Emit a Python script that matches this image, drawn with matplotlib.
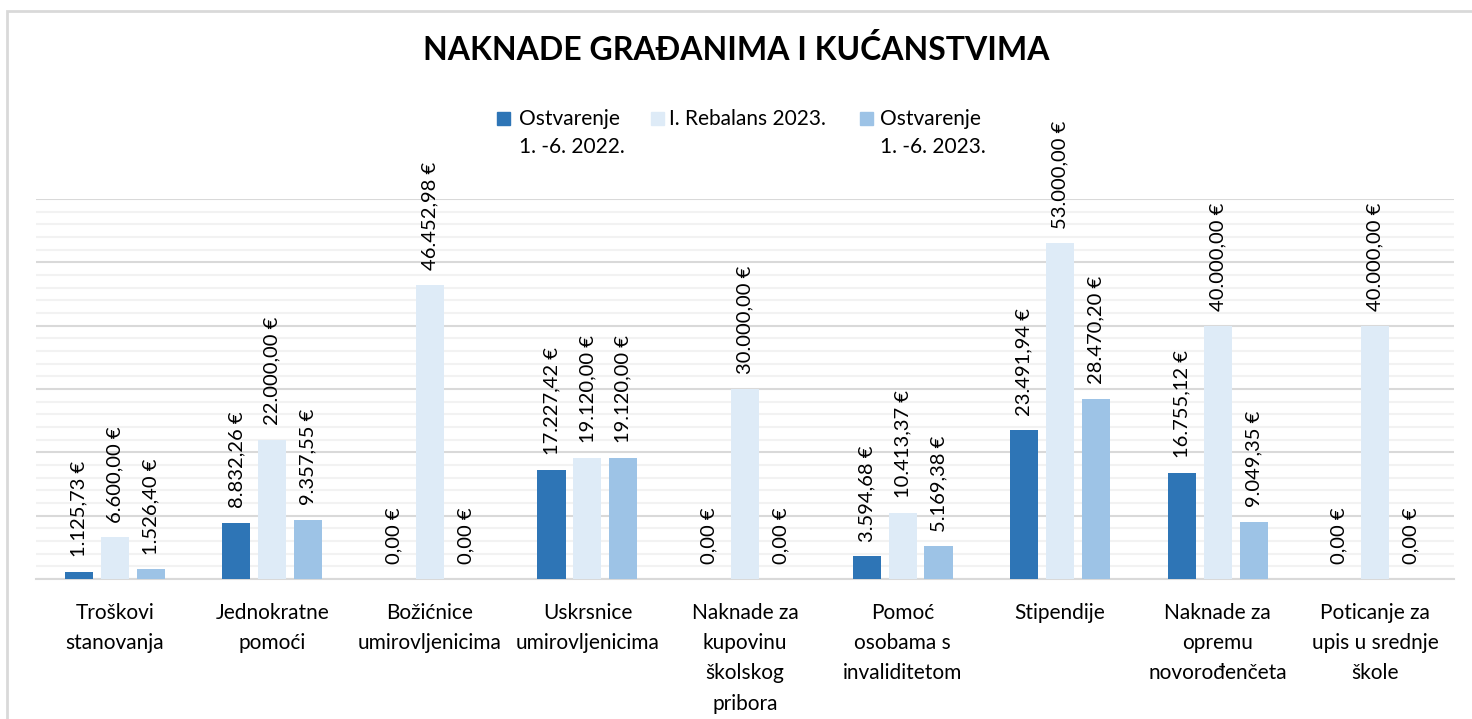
import numpy as np
import matplotlib.pyplot as plt
from matplotlib.patches import Rectangle
from matplotlib.ticker import MultipleLocator

plt.rcParams['font.family'] = ['Lato', 'DejaVu Sans']

# Categories and series
categories = ['Troškovi\nstanovanja', 'Jednokratne\npomoći', 'Božićnice\numirovljenicima',
              'Uskrsnice\numirovljenicima', 'Naknade za\nkupovinu\nškolskog\npribora',
              'Pomoć\nosobama s\ninvaliditetom', 'Stipendije', 'Naknade za\nopremu\nnovorođenčeta',
              'Poticanje za\nupis u srednje\nškole']
ostv_2022 = [1125.73, 8832.26, 0, 17227.42, 0, 3594.68, 23491.94, 16755.12, 0]
rebalans_2023 = [6600.00, 22000.00, 46452.98, 19120.00, 30000.00, 10413.37, 53000.00, 40000.00, 40000.00]
ostv_2023 = [1526.40, 9357.55, 0, 19120.00, 0, 5169.38, 28470.20, 9049.35, 0]
series_names = ['Ostvarenje\n1. -6. 2022.', 'I. Rebalans 2023.', 'Ostvarenje\n1. -6. 2023.']
colors = ['#2E75B6', '#DEEBF7', '#9DC3E6']


def eur(v):
    s = f'{v:,.2f}'.replace(',', 'X').replace('.', ',').replace('X', '.')
    return s + ' €'


W, H = 1472, 719
fig = plt.figure(figsize=(W / 100, H / 100), dpi=100)
ax = fig.add_axes([36 / W, 1 - 579 / H, 1418 / W, 380 / H])

# chart frame
fig.patches.append(Rectangle((7 / W, -0.05), 1.1, 1 - 11 / H + 0.05, transform=fig.transFigure,
                             fill=False, edgecolor='#D9D9D9', linewidth=2))

x = np.arange(len(categories))
w = 0.178
step = 0.228
for i, (vals, col) in enumerate(zip([ostv_2022, rebalans_2023, ostv_2023], colors)):
    pos = x + (i - 1) * step
    ax.bar(pos, vals, width=w, color=col, zorder=3)
    for p, v in zip(pos, vals):
        ax.annotate(eur(v), (p, v), xytext=(0, 10.5), textcoords='offset points',
                    rotation=90, ha='center', va='bottom', fontsize=14.5, color='#000000',
                    annotation_clip=False)

ax.set_xlim(-0.5, len(categories) - 0.5)
ax.set_ylim(0, 60000)
ax.yaxis.set_major_locator(MultipleLocator(10000))
ax.yaxis.set_minor_locator(MultipleLocator(2000))
ax.grid(axis='y', which='major', color='#D9D9D9', linewidth=1.5, zorder=0)
ax.grid(axis='y', which='minor', color='#F2F2F2', linewidth=1.5, zorder=0)
ax.tick_params(axis='y', which='both', left=False, labelleft=False)
ax.tick_params(axis='x', length=0, pad=17, labelsize=15)
ax.set_xticks(x)
ax.set_xticklabels(categories, linespacing=1.65, va='top')
for s in ['top', 'left', 'right']:
    ax.spines[s].set_visible(False)
ax.spines['bottom'].set_color('#D9D9D9')
ax.spines['bottom'].set_linewidth(1.5)

fig.text(0.5, 1 - 50 / H, 'NAKNADE GRAĐANIMA I KUĆANSTVIMA', ha='center', va='center',
         fontsize=23, fontweight='bold', color='#000000')

# legend drawn by hand: square beside the first line of each entry
leg_sq_x = [497, 651, 860]
leg_txt_x = [519, 669, 880]
for name, col, sx, tx in zip(series_names, colors, leg_sq_x, leg_txt_x):
    fig.patches.append(Rectangle((sx / W, 1 - 125 / H), 13 / W, 13 / H,
                                 transform=fig.transFigure, color=col))
    fig.text(tx / W, 1 - 109 / H, name, ha='left', va='top', fontsize=15,
             linespacing=1.5, color='#000000')

fig.savefig('out.png', dpi=100)
